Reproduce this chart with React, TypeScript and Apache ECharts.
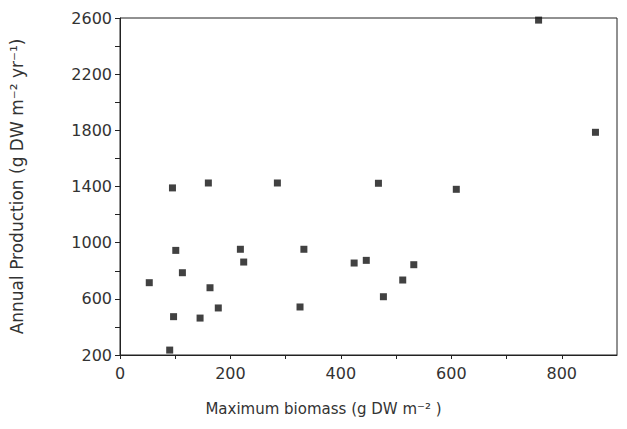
import React, { useEffect, useRef } from "react";
import * as echarts from "echarts";

const biomass = [53, 90, 95, 97, 101, 113, 145, 160, 163, 178, 218, 224, 285, 326, 333, 424, 446, 468, 477, 512, 532, 609, 758, 861];
const production = [715, 235, 1390, 473, 945, 786, 463, 1425, 679, 535, 953, 862, 1425, 542, 953, 855, 874, 1423, 615, 734, 843, 1380, 2585, 1786];
const xTickLabels = [0, 200, 400, 600, 800];
const yTickLabels = [200, 600, 1000, 1400, 1800, 2200, 2600];

export default function App() {
  const ref = useRef<HTMLDivElement>(null);
  useEffect(() => {
    if (!ref.current) return;
    const chart = echarts.init(ref.current, undefined, { renderer: "svg" });
    const font = "DejaVu Sans";
    chart.setOption({
      animation: false,
      backgroundColor: "#fff",
      grid: {
        left: 117,
        right: 10,
        top: 18,
        bottom: 74,
        show: true,
        borderColor: "#222",
        borderWidth: 1,
      },
      xAxis: {
        type: "value",
        min: 0,
        max: 900,
        interval: 100,
        name: "Maximum biomass (g DW m⁻² )",
        nameLocation: "middle",
        nameGap: 46,
        nameTextStyle: { fontFamily: font, fontSize: 15, color: "#333", padding: [0, 90, 0, 0] },
        axisLine: { lineStyle: { color: "#222" } },
        axisTick: { show: true, length: 4, lineStyle: { color: "#222" } },
        splitLine: { show: false },
        axisLabel: {
          fontFamily: font,
          fontSize: 16,
          color: "#333",
          margin: 10,
          showMaxLabel: false,
          formatter: (v: number) => (xTickLabels.includes(v) ? String(v) : ""),
        },
      },
      yAxis: {
        type: "value",
        min: 200,
        max: 2600,
        interval: 200,
        name: "Annual Production (g DW m⁻² yr⁻¹)",
        nameLocation: "middle",
        nameGap: 95,
        nameTextStyle: { fontFamily: font, fontSize: 17, color: "#333" },
        axisLine: { lineStyle: { color: "#222" } },
        axisTick: { show: true, length: 5, lineStyle: { color: "#222" } },
        splitLine: { show: false },
        axisLabel: {
          fontFamily: font,
          fontSize: 16,
          color: "#333",
          margin: 8,
          formatter: (v: number) => (yTickLabels.includes(v) ? String(v) : ""),
        },
      },
      series: [
        {
          type: "scatter",
          symbol: "rect",
          symbolSize: 7,
          itemStyle: { color: "#111" },
          data: biomass.map((b, i) => [b, production[i]]),
        },
      ],
    });
    return () => chart.dispose();
  }, []);
  return <div ref={ref} style={{ width: 627, height: 429, position: "absolute", left: 0, top: 0 }} />;
}
